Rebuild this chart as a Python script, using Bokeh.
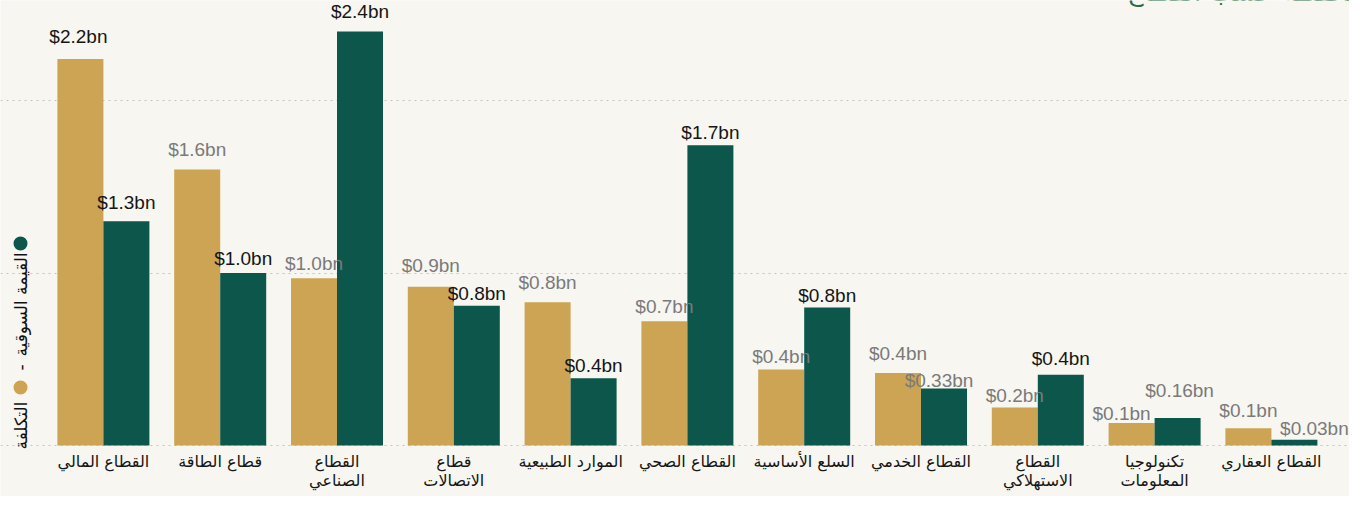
import math
from bokeh.plotting import figure
from bokeh.models import Range1d, FixedTicker, ColumnDataSource
from bokeh.core.properties import value
from bokeh.embed import file_html
from bokeh.resources import INLINE

# ---------------- data ----------------
sectors = [
    "القطاع المالي",
    "قطاع الطاقة",
    "القطاع\nالصناعي",
    "قطاع\nالاتصالات",
    "الموارد الطبيعية",
    "القطاع الصحي",
    "السلع الأساسية",
    "القطاع الخدمي",
    "القطاع\nالاستهلاكي",
    "تكنولوجيا\nالمعلومات",
    "القطاع العقاري",
]
cost = [2.24, 1.60, 0.97, 0.92, 0.83, 0.72, 0.44, 0.42, 0.22, 0.13, 0.10]
market = [1.30, 1.00, 2.40, 0.81, 0.39, 1.74, 0.80, 0.33, 0.41, 0.16, 0.034]
cost_labels = ["$2.2bn", "$1.6bn", "$1.0bn", "$0.9bn", "$0.8bn", "$0.7bn",
               "$0.4bn", "$0.4bn", "$0.2bn", "$0.1bn", "$0.1bn"]
market_labels = ["$1.3bn", "$1.0bn", "$2.4bn", "$0.8bn", "$0.4bn", "$1.7bn",
                 "$0.8bn", "$0.33bn", "$0.4bn", "$0.16bn", "$0.03bn"]
cost_emph = [True, False, False, False, False, False, False, False, False, False, False]
market_emph = [True, True, True, True, True, True, True, False, True, False, False]
legend_cost = "التكلفة"
legend_market = "القيمة السوقية"
title_text = "توزيع المحفظة حسب القطاع"

# ---------------- layout / style ----------------
# label nudges (pixels) to avoid collisions, as in the original layout
cost_dx = [-2, 0, 0, 0, 0, 0, 0, 0, 0, -10, 0]
cost_dy = [-8, -5, 0, -6, -5, 0, 2, -5, 3, 5, -3]
market_dx = [0, 0, 0, 0, 0, 0, 0, -5, 0, 2, 20]
market_dy = [-4, 0, -5, 3, 2, 2, 3, 7, -1, -12, 4]

BG = "#F7F6F0"
GOLD = "#CDA453"
GREEN = "#0D564B"
DARK = "#151515"
GREY = "#7A7A7A"

W, H = 1349, 496
PXX = 116.8          # pixels per category
X0 = -0.881          # data x at canvas left
PXY = 172.5          # pixels per bn
BASE_PX = 445        # canvas row of the zero line
Y0 = -(H - BASE_PX) / PXY
YEND = Y0 + H / PXY
BW = 46 / PXX
GAP = 15

def cx(px):
    return X0 + px / PXX

def cy(py):
    return YEND - py / PXY

p = figure(width=W, height=H, output_backend="svg", toolbar_location=None,
           x_range=Range1d(X0, X0 + W / PXX), y_range=Range1d(Y0, YEND),
           background_fill_color=BG, border_fill_color=BG,
           min_border_left=0, min_border_right=0, min_border_top=0,
           min_border_bottom=0, outline_line_color=None)

xs = list(range(len(sectors)))
src = ColumnDataSource(dict(
    xc=[x - BW / 2 for x in xs], xm=[x + BW / 2 for x in xs],
    cost=cost, market=market,
    cl=cost_labels, ml=market_labels,
    ccol=[DARK if e else GREY for e in cost_emph],
    mcol=[DARK if e else GREY for e in market_emph],
    cdx=cost_dx, cdy=[d - GAP for d in cost_dy],
    mdx=market_dx, mdy=[d - GAP for d in market_dy],
))

p.vbar(x="xc", top="cost", bottom=0, width=BW, source=src,
       fill_color=GOLD, line_color=None)
p.vbar(x="xm", top="market", bottom=0, width=BW, source=src,
       fill_color=GREEN, line_color=None)

for xcol, ycol, tcol, ccol, dx, dy in (("xc", "cost", "cl", "ccol", "cdx", "cdy"),
                                       ("xm", "market", "ml", "mcol", "mdx", "mdy")):
    p.text(x=xcol, y=ycol, text=tcol, source=src, text_color=ccol,
           text_font=value("Liberation Sans"), text_font_size="19px",
           text_align="center", text_baseline="alphabetic",
           x_offset=dx, y_offset=dy)

# axes & grid: the category axis sits on the zero line inside the frame
p.xaxis.fixed_location = 0
p.xaxis.ticker = FixedTicker(ticks=xs)
p.xaxis.major_label_overrides = {i: s for i, s in enumerate(sectors)}
p.xaxis.major_label_text_font = "DejaVu Sans"
p.xaxis.major_label_text_font_size = "16px"
p.xaxis.major_label_text_line_height = 1.05
p.xaxis.major_label_text_color = DARK
p.xaxis.major_label_standoff = 6
p.xaxis.axis_line_color = None
p.xaxis.major_tick_line_color = None
p.xaxis.minor_tick_line_color = None
p.xaxis.major_tick_out = 0
p.xaxis.major_tick_in = 0
p.xgrid.visible = False
p.yaxis.visible = False
p.ygrid.ticker = FixedTicker(ticks=[0, 1, 2])
p.ygrid.grid_line_color = "#C4C4BE"
p.ygrid.grid_line_dash = "2 4"
p.ygrid.grid_line_width = 1.2

# legend (rotated, left side)
p.scatter(x=[cx(20), cx(20)], y=[cy(243), cy(387)], size=14,
          fill_color=[GREEN, GOLD], line_color=None)
p.text(x=[cx(20), cx(20), cx(20)], y=[cy(304), cy(367), cy(425)],
       text=[legend_market, "-", legend_cost], angle=math.pi / 2,
       text_font=value("DejaVu Sans"), text_font_size="17px",
       text_color="#111111", text_align="center", text_baseline="middle")

# title (mostly cut off at the top, as in the original)
p.text(x=[cx(1440)], y=[YEND], text=[title_text], text_color="#2E6A44",
       text_font=value("DejaVu Sans"), text_font_size="26px",
       text_align="right", text_baseline="alphabetic", y_offset=-9)

open("out.html", "w").write(file_html(p, INLINE))
